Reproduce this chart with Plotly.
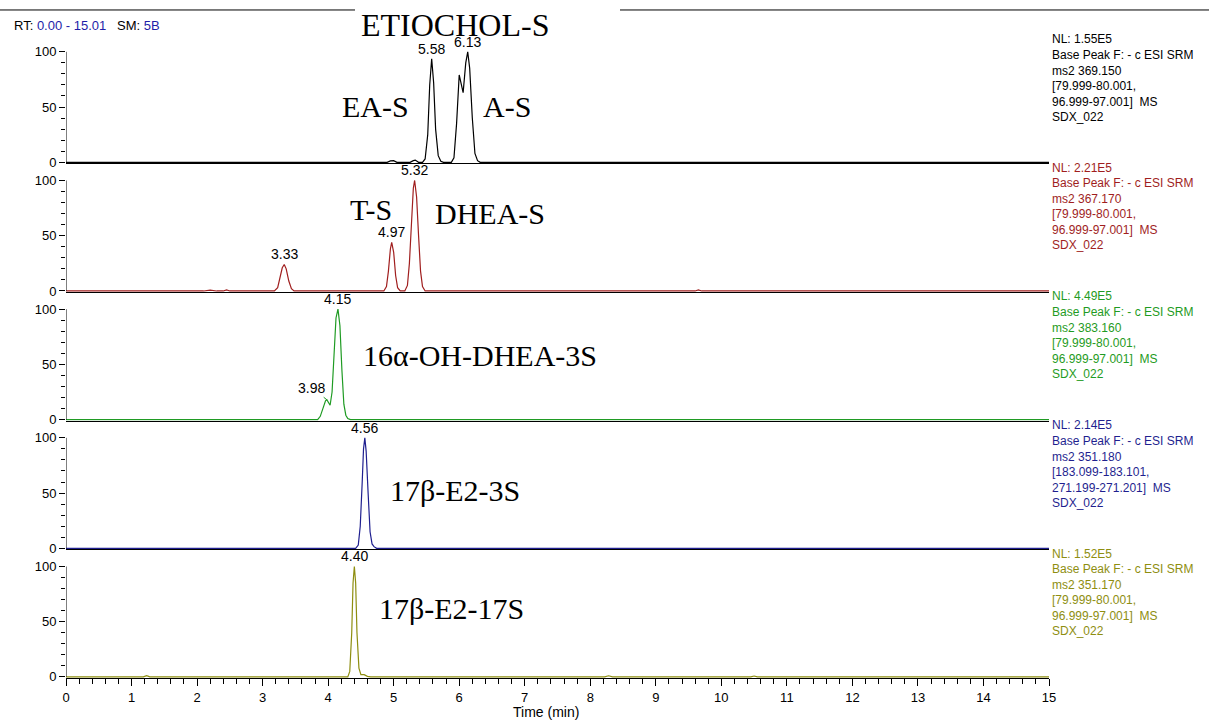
import plotly.graph_objects as go

# ---- chromatogram data (retention time in min, relative abundance in %) ----
t_etiochol = [0.0, 1.5, 3.0, 4.9, 4.95, 5.0, 5.05, 5.25, 5.3, 5.33, 5.38, 5.44, 5.48, 5.52, 5.55,
              5.58, 5.61, 5.64, 5.68, 5.72, 5.76, 5.88, 5.92, 5.96, 6.0, 6.03, 6.06, 6.1,
              6.13, 6.16, 6.2, 6.24, 6.28, 6.32, 8.0, 11.0, 15.0]
i_etiochol = [0, 0, 0, 0, 1.2, 1.5, 0, 0, 1.5, 2, 0, 0, 3, 25, 70,
              93.7, 72, 30, 6, 1, 0, 0, 4, 35, 79, 70, 63, 90,
              100, 85, 40, 8, 1.5, 0, 0, 0, 0]

t_dhea = [0.0, 2.1, 2.2, 2.3, 2.4, 2.45, 2.5, 3.18, 3.23, 3.27, 3.30, 3.33, 3.36, 3.40, 3.44, 3.48,
          4.85, 4.89, 4.92, 4.95, 4.97, 5.0, 5.03, 5.06, 5.1, 5.17, 5.21, 5.24, 5.27, 5.3,
          5.32, 5.35, 5.38, 5.41, 5.44, 5.48, 9.6, 9.65, 9.7, 15.0]
i_dhea = [0, 0, 0.8, 0, 0, 1.0, 0, 0, 3, 12, 21, 24, 20, 9, 2, 0,
          0, 4, 18, 38, 44, 35, 14, 3, 0, 0, 5, 25, 62, 93,
          100, 85, 50, 18, 4, 0, 0, 1.0, 0, 0]

t_oh_dhea = [0.0, 3.3, 3.84, 3.88, 3.92, 3.96, 3.98, 4.01, 4.03, 4.06, 4.09, 4.12, 4.15, 4.18, 4.21,
             4.24, 4.27, 4.30, 4.34, 15.0]
i_oh_dhea = [0, 0, 0, 3, 10, 17, 18, 14, 13, 25, 60, 92, 100, 85, 45,
             14, 4, 1, 0, 0]

t_e2_3s = [0.0, 4.42, 4.46, 4.49, 4.52, 4.54, 4.56, 4.58, 4.61, 4.64, 4.67, 4.70, 4.74, 15.0]
i_e2_3s = [0, 0, 3, 20, 60, 90, 100, 88, 50, 15, 4, 1.5, 0, 0]

t_e2_17s = [0.0, 1.18, 1.23, 1.28, 4.30, 4.33, 4.36, 4.38, 4.40, 4.42, 4.44, 4.47, 4.50, 4.55,
            4.60, 4.65, 8.22, 8.28, 8.34, 10.45, 10.5, 10.55, 15.0]
i_e2_17s = [0, 0, 1.2, 0, 0, 5, 40, 85, 100, 85, 40, 8, 2, 2,
            0.5, 0, 0, 1.0, 0, 0, 0.8, 0, 0]

times = [t_etiochol, t_dhea, t_oh_dhea, t_e2_3s, t_e2_17s]
intensities = [i_etiochol, i_dhea, i_oh_dhea, i_e2_3s, i_e2_17s]

# labelled retention times for each trace
peak_rts = [[5.58, 6.13], [3.33, 4.97, 5.32], [4.15], [4.56], [4.40]]
side_peak_rt = 3.98  # shoulder on the 16a-OH-DHEA-3S trace, labelled with a leader line

nl_values = ["1.55E5", "2.21E5", "4.49E5", "2.14E5", "1.52E5"]
scan_info = [
    ["Base Peak F: - c ESI SRM", "ms2 369.150", "[79.999-80.001,", "96.999-97.001]  MS", "SDX_022"],
    ["Base Peak F: - c ESI SRM", "ms2 367.170", "[79.999-80.001,", "96.999-97.001]  MS", "SDX_022"],
    ["Base Peak F: - c ESI SRM", "ms2 383.160", "[79.999-80.001,", "96.999-97.001]  MS", "SDX_022"],
    ["Base Peak F: - c ESI SRM", "ms2 351.180", "[183.099-183.101,", "271.199-271.201]  MS", "SDX_022"],
    ["Base Peak F: - c ESI SRM", "ms2 351.170", "[79.999-80.001,", "96.999-97.001]  MS", "SDX_022"],
]

# compound names with their (time, abundance) anchor on each trace
compound_labels = [
    [("EA-S", 4.72, 50.5), ("A-S", 6.73, 50.5)],
    [("T-S", 4.65, 74), ("DHEA-S", 6.47, 70)],
    [("16α-OH-DHEA-3S", 6.32, 58)],
    [("17β-E2-3S", 5.94, 52)],
    [("17β-E2-17S", 5.88, 62)],
]
main_title = "ETIOCHOL-S"

colors = ["#000000", "#A01E1E", "#1F9B23", "#1F1F8F", "#8E8E10"]

SANS = "Arial, Liberation Sans, sans-serif"
SERIF = "Times New Roman, Liberation Serif, serif"

# ---- layout geometry ----
W, H = 1209, 720
M_L, M_R, M_T, M_B = 66, 160, 0, 42
PLOT_H = H - M_T - M_B
PLOT_W = W - M_L - M_R
zero_px = [160, 289.25, 418.5, 547.75, 677]
PX_PER_PCT = 1.11
Y_MIN, Y_MAX = -1, 104


def frac(px):
    return (PLOT_H - px) / PLOT_H


def xfrac(px):
    return (px - M_L) / PLOT_W


fig = go.Figure()
layout = dict(
    width=W, height=H,
    margin=dict(l=M_L, r=M_R, t=M_T, b=M_B),
    paper_bgcolor="white", plot_bgcolor="white",
    showlegend=False,
    font=dict(family=SANS, size=13, color="#000"),
)

# main compound title above the first trace (drawn first so peak labels sit on top)
annotations = [dict(
    x=xfrac(455), y=frac(22), xref="paper", yref="paper", text=main_title,
    showarrow=False, xanchor="center", yanchor="middle",
    font=dict(size=32, family=SERIF, color="#000"),
)]
shapes = []

for k in range(5):
    n = "" if k == 0 else str(k + 1)
    xa, ya = "x" + n, "y" + n
    col = colors[k]
    fig.add_trace(go.Scatter(
        x=times[k], y=intensities[k], mode="lines", xaxis=xa, yaxis=ya,
        line=dict(color=col, width=1.2),
        hoverinfo="skip",
    ))

    bottom = zero_px[k] - Y_MIN * PX_PER_PCT
    top = zero_px[k] - Y_MAX * PX_PER_PCT
    dom = [max(0.0, frac(bottom)), min(1.0, frac(top))]

    is_bottom = k == 4
    layout["xaxis" + n] = dict(
        range=[0, 15], anchor=ya, domain=[0, 1],
        showgrid=False, zeroline=False,
        showline=True, linecolor="#000", linewidth=1,
        matches=None if k == 0 else "x",
        tickmode="linear", tick0=0, dtick=1,
        ticks="outside" if is_bottom else "", ticklen=7, tickcolor="#000",
        showticklabels=is_bottom,
        tickfont=dict(size=13, family=SANS),
        minor=dict(tickmode="linear", tick0=0, dtick=0.2, ticks="outside" if is_bottom else "",
                   ticklen=5, tickcolor="#000", showgrid=False),
    )
    layout["yaxis" + n] = dict(
        range=[Y_MIN, Y_MAX], domain=dom, anchor=xa,
        showgrid=False, zeroline=False, showline=False,
        tickmode="array", tickvals=[0, 50, 100], ticktext=["0", "50", "100"],
        ticks="outside", ticklen=6, tickcolor="#000",
        tickfont=dict(size=13, family=SANS),
        minor=dict(tickmode="linear", tick0=0, dtick=10, ticks="outside",
                   ticklen=4, tickcolor="#000", showgrid=False),
    )

    # intensity axis line from 0 to 100 %
    shapes.append(dict(type="line", xref=xa, yref=ya, x0=0, x1=0, y0=0, y1=100,
                       line=dict(color="#000", width=1)))

    # compound names
    for name, tx, ty in compound_labels[k]:
        annotations.append(dict(
            x=tx, y=ty, xref=xa, yref=ya, text=name, showarrow=False,
            xanchor="center", yanchor="middle",
            font=dict(size=30, family=SERIF, color="#000"),
        ))

    # retention-time labels on the peaks
    for rt in peak_rts[k]:
        h = intensities[k][times[k].index(rt)]
        annotations.append(dict(
            x=rt, y=h, xref=xa, yref=ya, text=f"{rt:.2f}", showarrow=False,
            yanchor="bottom", yshift=0, font=dict(size=14, family=SANS, color="#000"),
        ))

    # scan header to the right of each trace
    y100 = zero_px[k] - 100 * PX_PER_PCT
    annotations.append(dict(
        x=xfrac(1050), y=frac(y100 - 13), xref="paper", yref="paper",
        text=f"NL: {nl_values[k]}", showarrow=False,
        xanchor="left", yanchor="middle",
        font=dict(size=12, family=SANS, color=col),
    ))
    annotations.append(dict(
        x=xfrac(1050), y=frac(y100 + 34), xref="paper", yref="paper",
        text="<br>".join(scan_info[k]), showarrow=False,
        xanchor="left", yanchor="middle", align="left",
        font=dict(size=12, family=SANS, color=col),
    ))

# shoulder label with leader line
h_side = intensities[2][times[2].index(side_peak_rt)]
annotations.append(dict(
    x=side_peak_rt, y=h_side, xref="x3", yref="y3", text=f"{side_peak_rt:.2f}",
    showarrow=True, arrowhead=0, arrowwidth=1, arrowcolor=colors[2], standoff=0,
    ax=-15, ay=-12, font=dict(size=14, family=SANS, color="#000"),
))

# header line
annotations.append(dict(
    x=xfrac(12), y=frac(23), xref="paper", yref="paper",
    xanchor="left", yanchor="middle", showarrow=False,
    text="RT: <span style='color:#1E1EA8'>0.00 - 15.01</span>   SM: <span style='color:#1E1EA8'>5B</span>",
    font=dict(size=13, family=SANS, color="#000"),
))

# axis title
annotations.append(dict(
    x=xfrac(546), y=frac(712), xref="paper", yref="paper", text="Time (min)", showarrow=False,
    xanchor="center", yanchor="middle", font=dict(size=14, family=SANS, color="#000"),
))

# top rule, broken around the main title
for a, b in [(0, 355), (620, W)]:
    shapes.append(dict(type="line", xref="paper", yref="paper",
                       x0=xfrac(a), x1=xfrac(b), y0=frac(7), y1=frac(7),
                       line=dict(color="#000", width=1)))

layout["annotations"] = annotations
layout["shapes"] = shapes
fig.update_layout(**layout)

fig.write_html("out.html")
